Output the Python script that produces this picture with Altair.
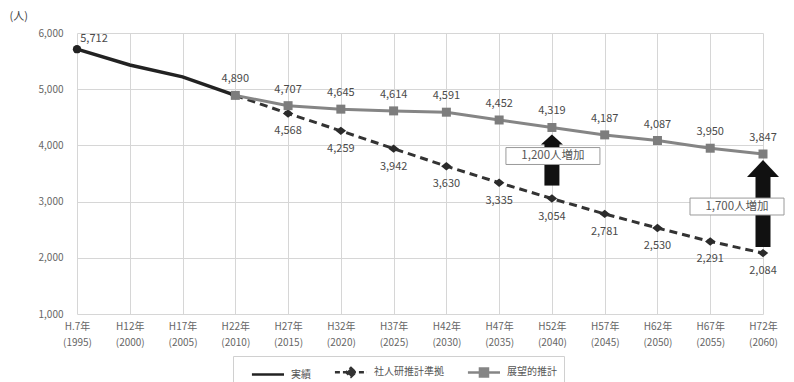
import altair as alt
import pandas as pd

FONT = "Noto Sans CJK JP"

# --- data -----------------------------------------------------------------
periods = ["H.7年", "H12年", "H17年", "H22年", "H27年", "H32年", "H37年",
           "H42年", "H47年", "H52年", "H57年", "H62年", "H67年", "H72年"]
years = ["(1995)", "(2000)", "(2005)", "(2010)", "(2015)", "(2020)", "(2025)",
         "(2030)", "(2035)", "(2040)", "(2045)", "(2050)", "(2055)", "(2060)"]

actual = [5712, 5430, 5220, 4890]                      # H7 - H22
ipss = [4890, 4568, 4259, 3942, 3630, 3335, 3054,      # H22 - H72
        2781, 2530, 2291, 2084]
vision = [4890, 4707, 4645, 4614, 4591, 4452, 4319,    # H22 - H72
          4187, 4087, 3950, 3847]

series_names = ["実績", "社人研推計準拠", "展望的推計"]
gap_labels = ["1,200人増加", "1,700人増加"]
gap_index = [9, 13]   # H52, H72

y_ticks = [1000, 2000, 3000, 4000, 5000, 6000]

# --- tables -----------------------------------------------------------------
cats = [f"{p}|{y}" for p, y in zip(periods, years)]

rows = []
for i, v in enumerate(actual):
    rows.append({"cat": cats[i], "series": series_names[0], "value": v, "idx": i})
for i, v in enumerate(ipss):
    rows.append({"cat": cats[3 + i], "series": series_names[1], "value": v, "idx": 3 + i})
for i, v in enumerate(vision):
    rows.append({"cat": cats[3 + i], "series": series_names[2], "value": v, "idx": 3 + i})
df = pd.DataFrame(rows)

gaps = pd.DataFrame({
    "cat": [cats[k] for k in gap_index],
    "low": [ipss[k - 3] for k in gap_index],
    "high": [vision[k - 3] for k in gap_index],
    "label": gap_labels,
})

# --- shared encodings ---------------------------------------------------------
x_enc = alt.X(
    "cat:N", sort=cats,
    scale=alt.Scale(type="point", padding=0),
    axis=alt.Axis(
        title=None, labelExpr="split(datum.label, '|')", labelAngle=0,
        labelFont=FONT, labelFontSize=10, labelColor="#666",
        labelLineHeight=16, labelPadding=7, labelBaseline="top",
        labelOverlap=False, grid=True, gridColor="#d6d6d6",
        domain=False, ticks=False,
    ),
)

y_scale = alt.Scale(domain=[1000, 6000], nice=False)
y_axis = alt.Axis(
    title="(人)", titleAngle=0, titleX=-68, titleY=-17, titleAlign="left",
    titleBaseline="middle", titleFont=FONT, titleFontSize=11,
    titleFontWeight="normal", titleColor="#444",
    values=y_ticks, format=",d", labelFont=FONT, labelFontSize=10,
    labelColor="#666", labelPadding=14, grid=True, gridColor="#d6d6d6",
    domain=False, ticks=False,
)


def y_of(field):
    return alt.Y(field, scale=y_scale, axis=y_axis)


base = alt.Chart(df)

# --- lines and markers ----------------------------------------------------------
line_actual = base.transform_filter(
    alt.datum.series == series_names[0]
).mark_line(color="#222", strokeWidth=3.5).encode(x=x_enc, y=y_of("value:Q"), order="idx:Q")

line_ipss = base.transform_filter(
    alt.datum.series == series_names[1]
).mark_line(color="#333", strokeWidth=3, strokeDash=[8, 5]).encode(
    x=x_enc, y=y_of("value:Q"), order="idx:Q")

line_vision = base.transform_filter(
    alt.datum.series == series_names[2]
).mark_line(color="#858585", strokeWidth=3).encode(x=x_enc, y=y_of("value:Q"), order="idx:Q")

dot_actual = base.transform_filter(
    (alt.datum.series == series_names[0]) & (alt.datum.idx == 0)
).mark_point(shape="circle", filled=True, size=70, color="#222", opacity=1).encode(
    x=x_enc, y=y_of("value:Q"))

dot_ipss = base.transform_filter(
    alt.datum.series == series_names[1]
).mark_point(shape="M0,-0.8L1,0L0,0.8L-1,0Z", filled=True, size=110,
             color="#2b2b2b", opacity=1).encode(x=x_enc, y=y_of("value:Q"))

dot_vision = base.transform_filter(
    alt.datum.series == series_names[2]
).mark_point(shape="square", filled=True, size=81, color="#7d7d7d", opacity=1).encode(
    x=x_enc, y=y_of("value:Q"))

# --- value labels ---------------------------------------------------------------
text_style = dict(font=FONT, fontSize=11, color="#4a4a4a", align="center", baseline="middle")

lab_actual = base.transform_filter(
    (alt.datum.series == series_names[0]) & (alt.datum.idx == 0)
).mark_text(dx=17, dy=-10, **text_style).encode(
    x=x_enc, y=y_of("value:Q"), text=alt.Text("value:Q", format=",d"))

lab_vision = base.transform_filter(
    alt.datum.series == series_names[2]
).mark_text(dy=-16, **text_style).encode(
    x=x_enc, y=y_of("value:Q"), text=alt.Text("value:Q", format=",d"))

lab_ipss = base.transform_filter(
    (alt.datum.series == series_names[1]) & (alt.datum.idx > 3)
).mark_text(dy=18, **text_style).encode(
    x=x_enc, y=y_of("value:Q"), text=alt.Text("value:Q", format=",d"))


# --- gap arrows with captions ------------------------------------------------------
def gap_arrow(i, head_w, head_h, tip_gap, bottom_gap, box_dx, box_dy):
    one = alt.Chart(gaps.iloc[[i]])
    ratio = head_h / (head_w / 2)
    head_path = f"M0,0L1,{ratio:.3f}L-1,{ratio:.3f}Z"
    body = one.mark_bar(color="#111", size=15, yOffset=-bottom_gap,
                        y2Offset=tip_gap + head_h - 1).encode(
        x=x_enc, y=y_of("low:Q"), y2="high:Q")
    head = one.mark_point(shape=head_path, size=head_w ** 2, filled=True,
                          color="#111", opacity=1, yOffset=tip_gap).encode(
        x=x_enc, y=y_of("high:Q"))
    box = one.transform_calculate(mid="(datum.low + datum.high) / 2").mark_point(
        shape="M-1,-0.18H1V0.18H-1Z", size=94 ** 2, filled=True, fill="white",
        stroke="#9a9a9a", strokeWidth=1, opacity=1, xOffset=box_dx, yOffset=box_dy,
    ).encode(x=x_enc, y=y_of("mid:Q"))
    cap = one.transform_calculate(mid="(datum.low + datum.high) / 2").mark_text(
        font=FONT, fontSize=11.5, color="#555", align="center", baseline="middle",
        dx=box_dx, dy=box_dy,
    ).encode(x=x_enc, y=y_of("mid:Q"), text="label:N")
    return [body, head, box, cap]


arrows = gap_arrow(0, 22, 10, 7, 13, 1, -7) + gap_arrow(1, 32, 17, 6, 6, -26, 3)

# --- legend (hidden marks that carry the legend symbols) ------------------------------
leg_paths = [
    "M0.4,0H4.8",
    "M0.4,0H4.8M2.6,-0.6L3.25,0L2.6,0.6L1.95,0Z",
    "M0.4,0H4.8M2.05,-0.55H3.15V0.55H2.05Z",
]
leg_colors = ["#222", "#333", "#858585"]
leg_def = alt.Legend(
    title=None, orient="none", legendX=156, legendY=323, direction="horizontal",
    symbolSize=213, symbolStrokeWidth=2.5, symbolOpacity=1,
    labelFont=FONT, labelFontSize=10, labelColor="#555", labelOffset=33,
    columnPadding=12, padding=7, strokeColor="#d0d0d0", fillColor="white",
)
legend_layer = base.mark_point(opacity=0, filled=True, strokeWidth=2.5).encode(
    x=x_enc, y=y_of("value:Q"),
    shape=alt.Shape("series:N", sort=series_names,
                    scale=alt.Scale(domain=series_names, range=leg_paths), legend=leg_def),
    fill=alt.Fill("series:N", sort=series_names,
                  scale=alt.Scale(domain=series_names, range=leg_colors), legend=leg_def),
    stroke=alt.Stroke("series:N", sort=series_names,
                      scale=alt.Scale(domain=series_names, range=leg_colors), legend=leg_def),
    strokeDash=alt.StrokeDash("series:N", sort=series_names,
                              scale=alt.Scale(domain=series_names,
                                              range=[[1, 0], [5, 3], [1, 0]]),
                              legend=leg_def),
)

chart = alt.layer(
    legend_layer,
    line_actual, line_ipss, dot_ipss, line_vision, dot_vision, dot_actual,
    *arrows,
    lab_actual, lab_vision, lab_ipss,
).properties(
    width=686, height=281,
    autosize=alt.AutoSizeParams(type="none"),
    padding={"left": 77, "top": 33, "right": 31, "bottom": 68},
    background="white",
).configure_view(strokeWidth=0)

chart.save("out.html", embed_options={"renderer": "svg", "actions": False})
